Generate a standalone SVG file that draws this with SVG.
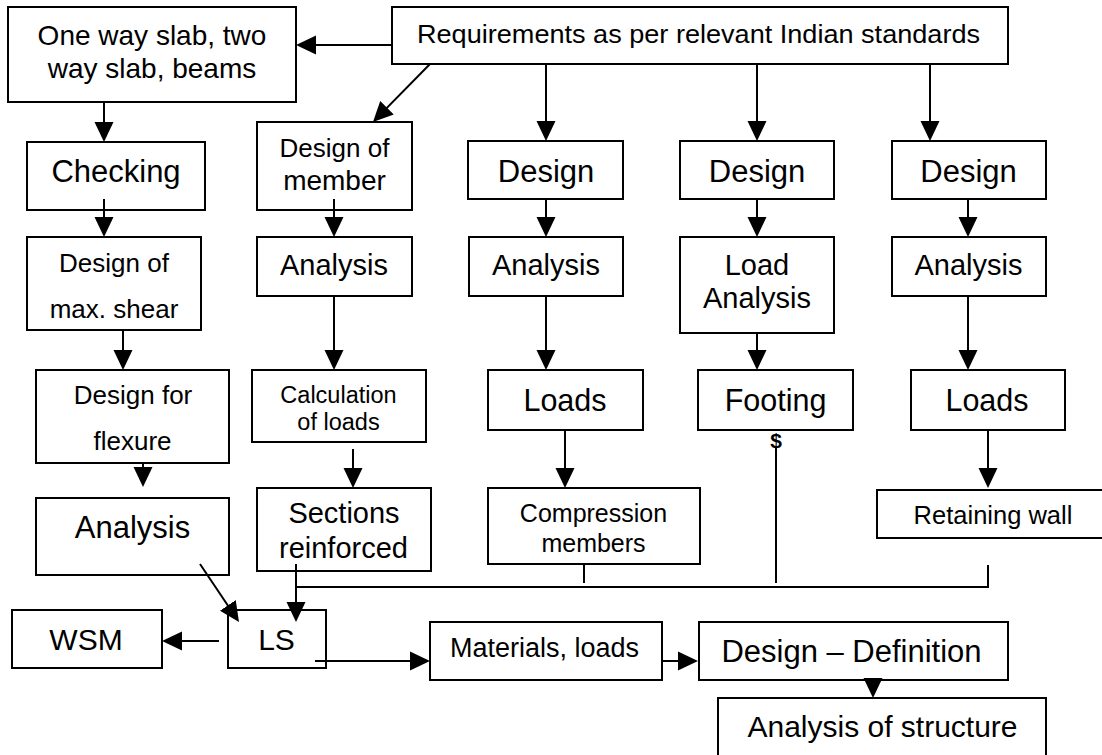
<svg xmlns="http://www.w3.org/2000/svg" width="1102" height="755" viewBox="0 0 1102 755">
<defs>
<style>
.box{fill:#fff;stroke:#000;stroke-width:2}
.t{font-family:"Liberation Sans",Arial,Helvetica,sans-serif;fill:#000;text-anchor:middle}
.c{fill:none;stroke:#000;stroke-width:2}
.a{marker-end:url(#ah)}
</style>
<marker id="ah" viewBox="0 0 20 20" markerWidth="20" markerHeight="20" refX="10" refY="10" orient="auto" markerUnits="userSpaceOnUse">
<path d="M0,0.5 L20,10 L0,19.5 Z" fill="#000"/>
</marker>
</defs>
<rect width="1102" height="755" fill="#fff"/>

<g id="n-oneway"><rect class="box" x="8" y="7" width="288" height="95"/>
<text class="t" x="152" y="45" font-size="28">One way slab, two</text>
<text class="t" x="152" y="78" font-size="28">way slab, beams</text></g>

<g id="n-req"><rect class="box" x="392" y="7" width="616" height="57"/>
<text class="t" x="698.5" y="43" font-size="26" textLength="563" lengthAdjust="spacingAndGlyphs">Requirements as per relevant Indian standards</text></g>

<g id="n-checking"><rect class="box" x="27" y="142" width="178" height="68"/>
<text class="t" x="116" y="182" font-size="31">Checking</text></g>

<g id="n-designmember"><rect class="box" x="257" y="122" width="155" height="88"/>
<text class="t" x="334.5" y="157" font-size="26">Design of</text>
<text class="t" x="334.5" y="190" font-size="28">member</text></g>

<g id="n-design3"><rect class="box" x="468" y="141" width="155" height="58"/>
<text class="t" x="546" y="182" font-size="31">Design</text></g>

<g id="n-design4"><rect class="box" x="680" y="141" width="154" height="58"/>
<text class="t" x="757" y="182" font-size="31">Design</text></g>

<g id="n-design5"><rect class="box" x="892" y="141" width="154" height="58"/>
<text class="t" x="968.5" y="182" font-size="31">Design</text></g>

<g id="n-designshear"><rect class="box" x="27" y="237" width="174" height="93"/>
<text class="t" x="114" y="272" font-size="26">Design of</text>
<text class="t" x="114" y="318" font-size="26">max. shear</text></g>

<g id="n-analysis2"><rect class="box" x="257" y="237" width="155" height="59"/>
<text class="t" x="334" y="275" font-size="29">Analysis</text></g>

<g id="n-analysis3"><rect class="box" x="469" y="237" width="154" height="59"/>
<text class="t" x="546" y="275" font-size="29">Analysis</text></g>

<g id="n-loadanalysis"><rect class="box" x="680" y="237" width="154" height="96"/>
<text class="t" x="757" y="275" font-size="29">Load</text>
<text class="t" x="757" y="308" font-size="29">Analysis</text></g>

<g id="n-analysis5"><rect class="box" x="892" y="237" width="154" height="59"/>
<text class="t" x="968.5" y="275" font-size="29">Analysis</text></g>

<g id="n-flexure"><rect class="box" x="36" y="370" width="193" height="93"/>
<text class="t" x="133" y="404" font-size="26">Design for</text>
<text class="t" x="132.5" y="450" font-size="26">flexure</text></g>

<g id="n-calc"><rect class="box" x="252" y="370" width="174" height="72"/>
<text class="t" x="338.5" y="403" font-size="23.5">Calculation</text>
<text class="t" x="338.5" y="430" font-size="23.5">of loads</text></g>

<g id="n-loads3"><rect class="box" x="488" y="370" width="155" height="60"/>
<text class="t" x="565" y="411" font-size="30.5">Loads</text></g>

<g id="n-footing"><rect class="box" x="698" y="370" width="155" height="60"/>
<text class="t" x="775.5" y="411" font-size="30.5">Footing</text></g>

<g id="n-loads5"><rect class="box" x="911" y="370" width="154" height="60"/>
<text class="t" x="987" y="411" font-size="30.5">Loads</text></g>

<g id="n-analysisleft"><rect class="box" x="36" y="498" width="193" height="77"/>
<text class="t" x="132.5" y="538" font-size="31">Analysis</text></g>

<g id="n-sections"><rect class="box" x="257" y="488" width="174" height="83"/>
<text class="t" x="344" y="523" font-size="29">Sections</text>
<text class="t" x="343.5" y="558" font-size="29">reinforced</text></g>

<g id="n-compression"><rect class="box" x="488" y="488" width="212" height="76"/>
<text class="t" x="593.5" y="522" font-size="25">Compression</text>
<text class="t" x="593.5" y="552" font-size="25">members</text></g>

<g id="n-retaining"><rect class="box" x="877" y="490" width="228" height="48"/>
<text class="t" x="993" y="524" font-size="25.5">Retaining wall</text></g>

<g id="n-wsm"><rect class="box" x="12" y="610" width="150" height="58"/>
<text class="t" x="86" y="650" font-size="30">WSM</text></g>

<g id="n-ls"><rect class="box" x="228" y="610" width="98" height="58"/>
<text class="t" x="276.5" y="650" font-size="30">LS</text></g>

<g id="n-materials"><rect class="box" x="430" y="622" width="232" height="58"/>
<text class="t" x="544.5" y="657" font-size="27">Materials, loads</text></g>

<g id="n-designdef"><rect class="box" x="699" y="622" width="309" height="58"/>
<text class="t" x="851.5" y="662" font-size="31">Design – Definition</text></g>

<g id="n-analysisstructure"><rect class="box" x="718" y="698" width="328" height="70"/>
<text class="t" x="882.5" y="737" font-size="30">Analysis of structure</text></g>

<g id="connectors">
<line class="c a" x1="392" y1="45" x2="306" y2="45"/>
<line class="c a" x1="430" y1="64" x2="380" y2="114.9"/>
<line class="c a" x1="546" y1="64" x2="546" y2="131"/>
<line class="c a" x1="757" y1="64" x2="757" y2="131"/>
<line class="c a" x1="930" y1="64" x2="930" y2="131"/>
<line class="c a" x1="104" y1="102" x2="104" y2="132"/>
<line class="c a" x1="104" y1="199" x2="104" y2="227"/>
<line class="c a" x1="123" y1="330" x2="123" y2="360"/>
<line class="c a" x1="143" y1="463" x2="143" y2="477"/>
<line class="c a" x1="200" y1="564" x2="233.4" y2="613.7"/>
<line class="c a" x1="334" y1="199" x2="334" y2="227"/>
<line class="c a" x1="334" y1="296" x2="334" y2="360"/>
<line class="c a" x1="353" y1="449" x2="353" y2="478"/>
<line class="c a" x1="296" y1="564" x2="296" y2="612"/>
<line class="c a" x1="546" y1="199" x2="546" y2="227"/>
<line class="c a" x1="546" y1="296" x2="546" y2="360"/>
<line class="c a" x1="565" y1="430" x2="565" y2="478"/>
<line class="c" x1="584" y1="564" x2="584" y2="583"/>
<line class="c a" x1="757" y1="199" x2="757" y2="227"/>
<line class="c a" x1="757" y1="333" x2="757" y2="360"/>
<line class="c" x1="776" y1="447" x2="776" y2="583"/>
<line class="c a" x1="968" y1="199" x2="968" y2="227"/>
<line class="c a" x1="968" y1="296" x2="968" y2="360"/>
<line class="c a" x1="988" y1="430" x2="988" y2="478"/>
<line class="c" x1="988" y1="565" x2="988" y2="587"/>
<line class="c" x1="296" y1="587" x2="989" y2="587"/>
<line class="c a" x1="219" y1="641" x2="172" y2="641"/>
<line class="c a" x1="315" y1="661" x2="420" y2="661"/>
<line class="c a" x1="662" y1="661" x2="688" y2="661"/>
<line class="c a" x1="873" y1="680" x2="873" y2="688"/>
<text class="t" x="776" y="448" font-size="21" font-weight="bold">$</text>
</g>
</svg>
